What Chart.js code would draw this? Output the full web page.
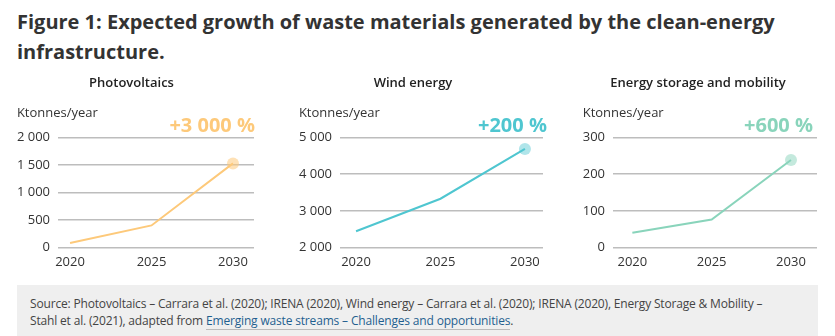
<!DOCTYPE html>
<html>
<head>
<meta charset="utf-8">
<script src="https://cdn.jsdelivr.net/npm/chart.js@4"></script>
<style>
  body { margin: 0; width: 835px; height: 336px; overflow: hidden; background: #fff; font-family: "Open Sans", sans-serif; position: relative; }
  h1 { position: absolute; left: 17px; top: 7px; width: 810px; margin: 0; font-size: 20px; line-height: 30px; font-weight: 700; color: #333; }
  .box { position: absolute; }
  .source { position: absolute; left: 17px; top: 285px; width: 801px; height: 60px; background: #efefef; box-sizing: border-box; padding: 10px 0 0 13px; font-size: 12px; line-height: 17px; color: #444; letter-spacing: -0.17px; }
  .source a { color: #1f5f8f; text-decoration: none; border-bottom: 1px solid #bbb; }
</style>
</head>
<body>
<h1>Figure 1: Expected growth of waste materials generated by the clean-energy infrastructure.</h1>

<div class="box" style="left:0px;top:70px;width:264px;height:211px"><canvas id="pv"></canvas></div>
<div class="box" style="left:275px;top:70px;width:278px;height:211px"><canvas id="wind"></canvas></div>
<div class="box" style="left:570px;top:70px;width:257px;height:211px"><canvas id="storage"></canvas></div>

<div class="source">Source: Photovoltaics – Carrara et al. (2020); IRENA (2020), Wind energy – Carrara et al. (2020); IRENA (2020), Energy Storage &amp; Mobility –<br>Stahl et al. (2021), adapted from <a href="#">Emerging waste streams – Challenges and opportunities</a>.</div>

<script>
// data
const years = [2020, 2025, 2030];
const pvValues = [80, 400, 1530];
const windValues = [2440, 3330, 4690];
const storageValues = [40, 76, 239];
const chartTitles = ["Photovoltaics", "Wind energy", "Energy storage and mobility"];
const growthLabels = ["+3 000 %", "+200 %", "+600 %"];
const unitLabel = "Ktonnes/year";

function spaced(v) {
  return String(v).replace(/\B(?=(\d{3})+(?!\d))/g, " ");
}

// unit label above the axis and growth label near the last point
const extras = {
  id: "extras",
  afterDraw(chart, args, opts) {
    const ctx = chart.ctx;
    const area = chart.chartArea;
    const y = chart.scales.y;
    ctx.save();
    ctx.font = "13px 'Open Sans'";
    let widest = 0;
    y.ticks.forEach((t) => {
      widest = Math.max(widest, ctx.measureText(spaced(t.value)).width);
    });
    ctx.fillStyle = "#333";
    ctx.textBaseline = "middle";
    ctx.textAlign = "left";
    ctx.fillText(unitLabel, area.left - 8 - widest, area.top - 24);

    const meta = chart.getDatasetMeta(0);
    const last = meta.data[meta.data.length - 1];
    ctx.font = "bold 20px 'Open Sans'";
    ctx.fillStyle = opts.color;
    ctx.textAlign = "right";
    ctx.fillText(opts.text, last.x + 22, area.top - 11);
    ctx.restore();
  },
};

function makeChart(id, values, color, fill, title, growth, yMin, yMax, step, xMin, xMax, axisWidth, padLeft) {
  return new Chart(document.getElementById(id), {
    type: "line",
    data: {
      datasets: [
        {
          data: years.map((yr, i) => ({ x: yr, y: values[i] })),
          borderColor: color,
          borderWidth: 2,
          tension: 0,
          pointRadius: [0, 0, 6],
          pointHoverRadius: [0, 0, 6],
          pointBorderWidth: 0,
          pointBackgroundColor: fill,
          clip: false,
        },
      ],
    },
    options: {
      responsive: true,
      maintainAspectRatio: false,
      animation: false,
      layout: { padding: { left: padLeft, right: 10, top: 0, bottom: 4 } },
      plugins: {
        legend: { display: false },
        tooltip: { enabled: false },
        title: {
          display: true,
          text: title,
          color: "#222",
          font: { family: "'Open Sans'", size: 13, weight: "600" },
          padding: { top: 5, bottom: 47 },
        },
        extras: { text: growth, color: color },
      },
      scales: {
        x: {
          type: "linear",
          min: xMin,
          max: xMax,
          afterBuildTicks: (scale) => {
            scale.ticks = years.map((v) => ({ value: v }));
          },
          ticks: {
            padding: 7,
            color: "#333",
            font: { family: "'Open Sans'", size: 13 },
            callback: (v) => String(v),
          },
          grid: { display: false, drawTicks: false },
          border: { display: false },
        },
        y: {
          min: yMin,
          max: yMax,
          afterFit: (scale) => {
            scale.width = axisWidth;
          },
          ticks: {
            stepSize: step,
            padding: 8,
            color: "#333",
            font: { family: "'Open Sans'", size: 13 },
            callback: (v) => spaced(v),
          },
          grid: { color: "#bdbdbd", lineWidth: 1.5, drawTicks: false },
          border: { display: false },
        },
      },
    },
    plugins: [extras],
  });
}

makeChart("pv", pvValues, "#fdc97a", "rgba(253,201,122,0.55)", chartTitles[0], growthLabels[0], 0, 2000, 500, 2019.26, 2031.29, 49, 9);
makeChart("wind", windValues, "#4fc6d0", "rgba(79,198,208,0.45)", chartTitles[1], growthLabels[1], 2000, 5000, 1000, 2019.05, 2031.07, 57, 8);
makeChart("storage", storageValues, "#89d4bb", "rgba(137,212,187,0.5)", chartTitles[2], growthLabels[2], 0, 300, 100, 2018.78, 2031.64, 34, 9);
</script>
</body>
</html>
